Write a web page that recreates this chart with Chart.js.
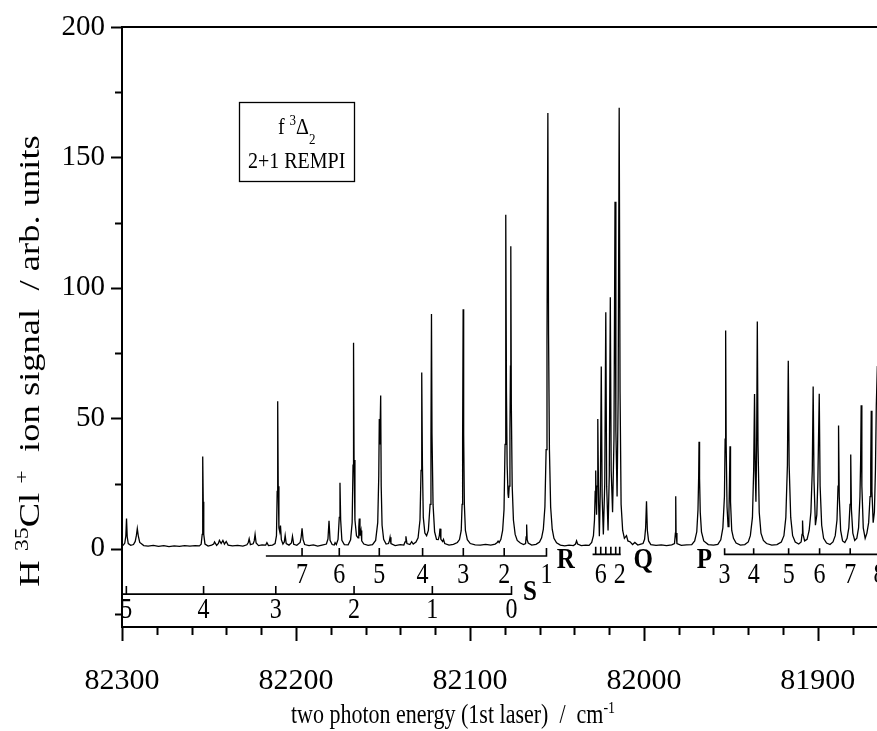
<!DOCTYPE html>
<html>
<head>
<meta charset="utf-8">
<title>HCl f 3Δ2 (v'=0) 2+1 REMPI spectrum</title>
<script src="https://cdn.jsdelivr.net/npm/chart.js@4.4.1/dist/chart.umd.min.js"></script>
<style>
  html, body { margin: 0; padding: 0; background: #ffffff; }
  #wrap { position: relative; width: 877px; height: 731px; }
</style>
</head>
<body>
<div id="wrap"><canvas id="c" width="877" height="731"></canvas></div>
<script>
// Ion signal vs. two-photon wavenumber (cm-1, signal in arb. units)
const spectrum = [
  [82300.0,1.2],[82299.2,1.4],[82298.4,2.2],[82297.8,4.8],[82297.4,11.6],[82297.0,4.6],[82296.4,2.0],[82295.0,1.3],
  [82293.4,1.6],[82292.4,2.8],[82291.7,5.2],[82291.2,7.7],[82290.6,4.8],[82289.8,2.4],[82289.0,2.0],[82287.5,1.2],
  [82285.0,1.0],[82282.0,1.3],[82279.0,0.9],[82276.0,1.2],[82273.0,0.8],[82270.0,1.1],[82267.0,0.9],[82264.0,1.2],
  [82261.0,1.0],[82258.0,1.2],[82255.5,1.1],
  [82254.5,1.7],[82253.9,5.5],[82253.7,18],[82253.5,35.4],[82253.3,18],[82253.0,5.5],[82252.3,1.8],
  [82250.5,1.0],[82248.5,1.4],[82247.3,1.8],[82246.8,2.6],[82245.6,1.3],[82244.6,2.0],[82244.0,3.2],[82243.0,2.0],
  [82242.0,3.2],[82241.1,1.8],[82240.1,2.8],[82239.0,1.4],[82236.5,1.1],[82233.5,1.3],[82230.5,1.0],[82228.2,1.5],
  [82227.4,2.4],[82226.9,3.8],[82226.2,1.6],[82224.6,1.9],[82224.0,3.0],[82223.5,5.5],[82222.9,2.2],[82221.5,1.2],
  [82219.5,1.5],[82217.4,1.4],[82216.7,2.3],[82215.8,1.2],[82213.5,1.4],
  [82212.0,2.0],[82211.2,5.0],[82210.8,22],[82210.5,56.5],[82210.2,24],[82209.8,8.0],[82209.3,6.5],[82208.9,8.9],
  [82208.4,3.5],[82207.5,1.8],[82206.7,2.6],[82206.2,5.1],[82205.6,2.0],[82204.0,1.4],[82202.6,2.2],[82202.0,4.8],
  [82201.3,1.7],[82199.5,1.3],[82197.6,2.4],[82197.0,4.5],[82196.5,7.8],[82195.9,3.5],[82195.0,1.6],
  [82192.5,1.2],[82190.0,1.5],[82187.5,1.0],[82185.0,1.4],[82182.5,1.8],[82181.6,3.8],[82181.0,10.7],[82180.4,3.2],
  [82179.2,1.6],[82178.0,1.4],[82177.5,2.3],[82176.8,1.6],[82175.8,3.6],[82175.1,12],[82174.7,25.3],[82174.3,11],
  [82173.6,3.2],[82172.2,1.6],[82170.0,1.5],[82168.6,3.4],[82167.7,10],[82167.2,32],[82166.9,79],[82166.6,34],
  [82166.1,11],[82165.2,5.0],[82164.3,4.2],[82163.9,8],[82163.6,11.6],[82163.2,5],[82162.6,7],[82162.2,3.0],[82161.0,1.8],
  [82158.5,1.3],[82156.0,1.6],[82154.2,3.2],[82153.0,10],[82152.4,28],[82152.1,49.7],[82151.8,40],[82151.3,58.7],
  [82151.0,24],[82150.5,9],[82149.6,3.6],[82148.2,1.8],[82146.8,2.0],[82146.3,3.0],[82145.9,4.4],[82145.4,2.0],
  [82143.0,1.2],[82140.0,1.6],[82138.0,1.4],[82137.3,2.6],[82136.8,4.8],[82136.2,2.0],[82134.5,1.6],[82133.5,2.7],
  [82132.6,1.8],[82131.0,2.6],
  [82129.8,4.2],[82128.7,11],[82128.1,30],[82127.7,67.6],[82127.3,32],[82126.8,12],[82125.9,6.0],[82124.9,5.0],
  [82123.9,7.0],[82122.9,17],[82122.4,42],[82122.1,90],[82121.8,44],[82121.2,17],[82120.3,6.5],[82119.2,3.6],
  [82118.2,3.5],[82117.6,5],[82117.2,7.7],[82116.7,3.6],[82115.7,2.8],[82115.2,3.6],[82114.5,2.0],[82112.0,1.4],
  [82109.5,1.7],[82107.2,2.4],
  [82106.0,3.5],[82105.0,7.0],[82104.5,17],[82104.2,42],[82103.9,91.8],[82103.6,44],[82103.2,17],[82102.6,7.0],
  [82101.5,3.5],[82099.8,2.0],[82097.0,1.5],[82094.0,1.4],[82091.0,1.7],[82088.0,1.4],[82085.5,1.8],[82084.3,2.4],
  [82083.8,2.9],[82083.2,2.4],
  [82082.2,3.6],[82081.2,7.0],[82080.4,15],[82079.8,40],[82079.5,75],[82079.3,128],[82079.0,60],[82078.6,32],
  [82078.1,21],[82077.8,19.5],[82077.4,24],[82077.0,45],[82076.7,70],[82076.5,116],[82076.2,55],[82075.7,24],
  [82075.0,11],[82074.0,5.5],[82072.8,3.2],[82071.0,2.2],[82069.2,1.6],[82068.0,2.0],[82067.7,4.5],[82067.4,9.3],
  [82067.1,3.5],[82066.5,2.2],[82064.5,1.4],[82062.0,1.7],[82060.0,2.6],
  [82058.8,4.2],[82057.8,7.5],[82056.9,16],[82056.2,38],[82055.7,80],[82055.2,167],[82054.8,82],[82054.3,38],
  [82053.6,16],[82052.7,7.5],[82051.7,4.0],[82050.2,2.3],[82048.0,1.4],[82045.5,1.1],[82043.0,1.4],[82040.5,1.2],
  [82039.3,1.8],[82038.7,3.0],[82038.1,1.8],[82036.0,1.2],[82033.5,1.4],[82031.5,1.3],[82030.0,2.4],[82029.0,5.0],
  [82028.4,11],[82028.0,22],[82027.7,30],[82027.4,18],[82027.2,13],[82026.9,24],[82026.5,49.7],[82026.0,17],
  [82025.6,4.8],[82025.0,24],[82024.5,69.9],[82024.0,20],[82023.3,5.5],[82022.5,25],[82021.9,90.7],[82021.4,24],
  [82020.6,7.0],[82019.9,28],[82019.3,96.4],[82018.8,30],[82018.0,14],[82017.2,42],[82016.6,133],[82016.1,45],
  [82015.4,20],[82014.8,58],[82014.2,169],[82013.7,60],[82013.1,17],[82012.2,7.0],[82011.2,4.0],[82010.0,5.0],
  [82009.2,3.0],[82007.8,2.6],[82006.5,1.6],[82005.2,2.4],[82003.5,1.4],[82001.8,1.8],[82000.5,2.0],[81999.6,3.6],
  [81999.0,8.0],[81998.5,18.2],[81998.0,7.0],[81997.3,3.0],[81996.0,1.6],
  [81993.0,1.3],[81990.0,1.5],[81987.0,1.2],[81984.0,1.5],[81982.4,2.0],[81981.9,6.0],[81981.7,20.1],[81981.5,6.0],
  [81981.0,2.0],[81978.5,1.3],[81975.5,1.5],[81972.5,1.6],[81970.8,3.0],[81969.6,6.5],[81968.9,15],[81968.5,28],
  [81968.3,41],[81968.0,27],[81967.6,14],[81966.9,6.5],[81965.6,3.0],[81963.0,1.6],[81960.0,1.4],[81957.5,1.7],
  [81955.8,3.4],[81954.6,8.0],[81953.7,20],[81953.3,42],[81953.0,83.7],[81952.7,40],[81952.2,16],[81951.6,8.5],
  [81951.1,14],[81950.8,26],[81950.5,39.3],[81950.2,18],[81949.5,7.0],[81948.5,4.0],[81947.0,2.2],[81944.5,1.4],
  [81942.0,1.6],[81940.0,2.6],[81938.8,5.0],[81937.6,12],[81936.9,30],[81936.4,59.3],[81936.0,30],[81935.6,18],
  [81935.2,38],[81934.8,87.1],[81934.4,40],[81933.7,14],[81932.7,6.0],[81931.3,3.2],[81929.5,2.0],[81926.5,1.4],
  [81923.5,1.6],
  [81921.0,2.6],[81919.5,5.0],[81918.4,12],[81917.5,32],[81917.0,72.1],[81916.5,32],[81915.6,12],[81914.5,5.0],
  [81913.0,2.6],[81911.0,1.8],[81909.6,2.6],[81909.1,5.5],[81908.8,10.8],[81908.5,5.5],[81907.6,3.0],[81906.2,3.6],
  [81905.0,7.0],[81904.0,14],[81903.2,30],[81902.7,62.2],[81902.2,26],[81901.4,9.0],[81900.6,13],[81900.0,26],
  [81899.2,59.4],[81898.7,24],[81897.8,9.0],[81896.7,4.0],[81895.0,2.2],[81893.0,1.6],
  [81891.3,2.6],[81890.0,5.0],[81889.0,11],[81888.4,24],[81888.1,47.2],[81887.7,20],[81886.9,7.0],[81885.8,3.0],
  [81884.5,2.4],[81883.2,4.0],[81882.2,8.0],[81881.5,17],[81881.1,36.1],[81880.7,15],[81879.9,6.0],[81878.8,3.2],
  [81877.6,4.0],[81876.6,8.0],[81875.8,20],[81875.4,34],[81875.1,55],[81874.7,24],[81873.9,8.0],[81872.8,4.0],
  [81871.8,6.0],[81870.8,10],[81870.0,20],[81869.6,32],[81869.3,52.9],[81868.9,22],[81868.2,10],[81867.5,14],
  [81866.9,30],[81866.4,55],[81865.8,70]
];

// Axis tick labels
const xTickValues = [82300, 82200, 82100, 82000, 81900];
const yTickValues = [0, 50, 100, 150, 200];

// Rotational line assignments (cm-1) and their J labels
const sBranchPos = [82297.5, 82253.1, 82211.6, 82166.6, 82121.6, 82076.1];
const sBranchJ   = ['5', '4', '3', '2', '1', '0'];
const rBranchPos = [82196.5, 82175.1, 82152.1, 82127.2, 82103.8, 82080.3, 82056.0];
const rBranchJ   = ['7', '6', '5', '4', '3', '2', '1'];
const qBranchPos = [82027.7, 82024.8, 82021.9, 82019.0, 82016.2, 82013.9];
const qBranchJ   = ['', '6', '', '', '', '2'];
const pBranchPos = [81953.6, 81936.9, 81916.8, 81899.0, 81881.4, 81864.6];
const pBranchJ   = ['3', '4', '5', '6', '7', '8'];

const SERIF = '"Liberation Serif", "Times New Roman", serif';
const TALL = 1.2;   // glyphs are drawn a little taller than wide

// comb geometry: horizontal bar with short vertical teeth
const combs = [
  { pos: sBranchPos, J: sBranchJ, from: 82300.0, to: 82076.1, barY: -17.4, tipY: -14.3, labelY: -23.1,
    name: 'S', nameX: 82065.5, nameY: -16.2 },
  { pos: rBranchPos, J: rBranchJ, from: 82217.3, to: 82056.0, barY: -2.8, tipY: 0.3, labelY: -9.5,
    name: 'R', nameX: 82044.9, nameY: -3.9 },
  { pos: qBranchPos, J: qBranchJ, from: 82029.5, to: 82013.3, barY: -2.15, tipY: 0.8, labelY: -9.5,
    name: 'Q', nameX: 82000.4, nameY: -3.9 },
  { pos: pBranchPos, J: pBranchJ, from: 81953.6, to: 81855.0, barY: -2.15, tipY: 0.2, labelY: -9.5,
    name: 'P', nameX: 81965.2, nameY: -3.9 }
];

function combPath(c) {
  const pts = [{ x: c.from, y: c.barY }];
  c.pos.forEach(p => {
    pts.push({ x: p, y: c.barY }, { x: p, y: c.tipY }, { x: p, y: c.barY });
  });
  pts.push({ x: c.to, y: c.barY });
  return pts;
}

const datasets = [{
  data: spectrum.map(p => ({ x: p[0], y: p[1] })),
  borderColor: '#000',
  borderWidth: 1.3,
  pointRadius: 0,
  tension: 0,
  fill: false
}];
combs.forEach(c => datasets.push({
  data: combPath(c),
  borderColor: '#000',
  borderWidth: 1.6,
  pointRadius: 0,
  tension: 0,
  fill: false
}));

// text runs with optional superscript / subscript parts
function runWidth(ctx, runs, size) {
  let w = 0;
  runs.forEach(r => {
    ctx.font = (r.sup || r.sub ? Math.round(size * 0.65) : size) + 'px ' + SERIF;
    w += ctx.measureText(r.t).width;
  });
  return w;
}
function drawRuns(ctx, runs, x, y, size) {
  runs.forEach(r => {
    const small = r.sup || r.sub;
    ctx.font = (small ? Math.round(size * 0.65) : size) + 'px ' + SERIF;
    const dy = r.sup ? -size * 0.38 : (r.sub ? size * 0.42 : 0);
    ctx.fillText(r.t, x, y + dy);
    x += ctx.measureText(r.t).width;
  });
}
// centred text, stretched vertically about its baseline
function tallText(ctx, text, x, y, font) {
  ctx.save();
  ctx.translate(x, y);
  ctx.scale(1, TALL);
  ctx.font = font;
  ctx.fillText(text, 0, 0);
  ctx.restore();
}

const decorations = {
  id: 'decorations',
  afterDraw(chart) {
    const ctx = chart.ctx;
    const xs = chart.scales.x, ys = chart.scales.y;
    const a = chart.chartArea;
    ctx.save();
    ctx.strokeStyle = '#000';
    ctx.fillStyle = '#000';

    // top frame line
    ctx.lineWidth = 2;
    ctx.beginPath();
    ctx.moveTo(a.left - 1, a.top);
    ctx.lineTo(a.right, a.top);
    ctx.stroke();

    // x tick marks (every 20, long at every 100), pointing outward
    for (let v = 82300; v >= xs.min; v -= 20) {
      const px = Math.round(xs.getPixelForValue(v)) + 0.5;
      const len = (v % 100 === 0) ? 14 : 8;
      ctx.beginPath();
      ctx.moveTo(px, a.bottom);
      ctx.lineTo(px, a.bottom + len);
      ctx.stroke();
    }
    // y tick marks (every 25, long at every 50), pointing outward
    for (let v = -25; v <= 200; v += 25) {
      const py = Math.round(ys.getPixelForValue(v)) + 0.5;
      const len = (v % 50 === 0) ? 11 : 7;
      ctx.beginPath();
      ctx.moveTo(a.left - len, py);
      ctx.lineTo(a.left, py);
      ctx.stroke();
    }

    // branch labels
    ctx.textAlign = 'center';
    ctx.textBaseline = 'alphabetic';
    combs.forEach(c => {
      c.pos.forEach((p, i) => {
        if (c.J[i]) tallText(ctx, c.J[i], xs.getPixelForValue(p), ys.getPixelForValue(c.labelY) + 9, '24px ' + SERIF);
      });
      tallText(ctx, c.name, xs.getPixelForValue(c.nameX), ys.getPixelForValue(c.nameY) + 9, 'bold 25px ' + SERIF);
    });

    // state / scheme box
    const bx0 = xs.getPixelForValue(82232.6), bx1 = xs.getPixelForValue(82166.6);
    const by0 = ys.getPixelForValue(171.3), by1 = ys.getPixelForValue(141.0);
    ctx.lineWidth = 1.3;
    ctx.strokeRect(Math.round(bx0) + 0.5, Math.round(by0) + 0.5, Math.round(bx1 - bx0), Math.round(by1 - by0));
    const cx = (bx0 + bx1) / 2;
    ctx.textAlign = 'left';
    const stateRuns = [{ t: 'f ' }, { t: '3', sup: true }, { t: 'Δ' }, { t: '2', sub: true }];
    const sw = runWidth(ctx, stateRuns, 20);
    ctx.save();
    ctx.translate(cx - sw / 2, by0 + 32);
    ctx.scale(1, TALL);
    drawRuns(ctx, stateRuns, 0, 0, 20);
    ctx.restore();
    ctx.textAlign = 'center';
    tallText(ctx, '2+1 REMPI', cx, by0 + 66, '20px ' + SERIF);

    // axis titles
    ctx.textAlign = 'left';
    const xt = [{ t: 'two photon energy (1st laser)  /  cm' }, { t: '-1', sup: true }];
    const xw = runWidth(ctx, xt, 22);
    ctx.save();
    ctx.translate(453 - xw / 2, 723);
    ctx.scale(1, TALL);
    drawRuns(ctx, xt, 0, 0, 22);
    ctx.restore();

    const yt = [{ t: 'H ' }, { t: '35', sup: true }, { t: 'Cl ' }, { t: '+', sup: true },
                { t: '  ion signal  / arb. units' }];
    const yw = runWidth(ctx, yt, 29);
    ctx.translate(39, 361);
    ctx.rotate(-Math.PI / 2);
    ctx.scale(1.26, 1);
    drawRuns(ctx, yt, -yw / 2, 0, 29);
    ctx.restore();
  }
};

new Chart(document.getElementById('c'), {
  type: 'line',
  data: { datasets },
  options: {
    responsive: false,
    animation: false,
    devicePixelRatio: 1,
    layout: { padding: { top: 27, right: 0, left: 0, bottom: 0 } },
    plugins: { legend: { display: false }, tooltip: { enabled: false } },
    scales: {
      x: {
        type: 'linear',
        reverse: true,
        min: 81866,
        max: 82300,
        afterBuildTicks: s => { s.ticks = xTickValues.map(v => ({ value: v })); },
        afterFit: s => { s.height = 104; s.paddingLeft = 0; s.paddingRight = 0; },
        grid: { display: false, drawTicks: false },
        border: { display: true, color: '#000', width: 2 },
        ticks: { color: '#000', font: { family: SERIF, size: 30 }, padding: 36, maxRotation: 0,
                 callback: v => String(v) }
      },
      y: {
        type: 'linear',
        min: -30,
        max: 200,
        afterBuildTicks: s => { s.ticks = yTickValues.map(v => ({ value: v })); },
        afterFit: s => { s.width = 122; s.paddingTop = 0; s.paddingBottom = 0; },
        grid: { display: false, drawTicks: false },
        border: { display: true, color: '#000', width: 2 },
        ticks: { color: '#000', font: { family: SERIF, size: 29 }, padding: 17,
                 callback: v => String(v) }
      }
    }
  },
  plugins: [decorations]
});
</script>
</body>
</html>
